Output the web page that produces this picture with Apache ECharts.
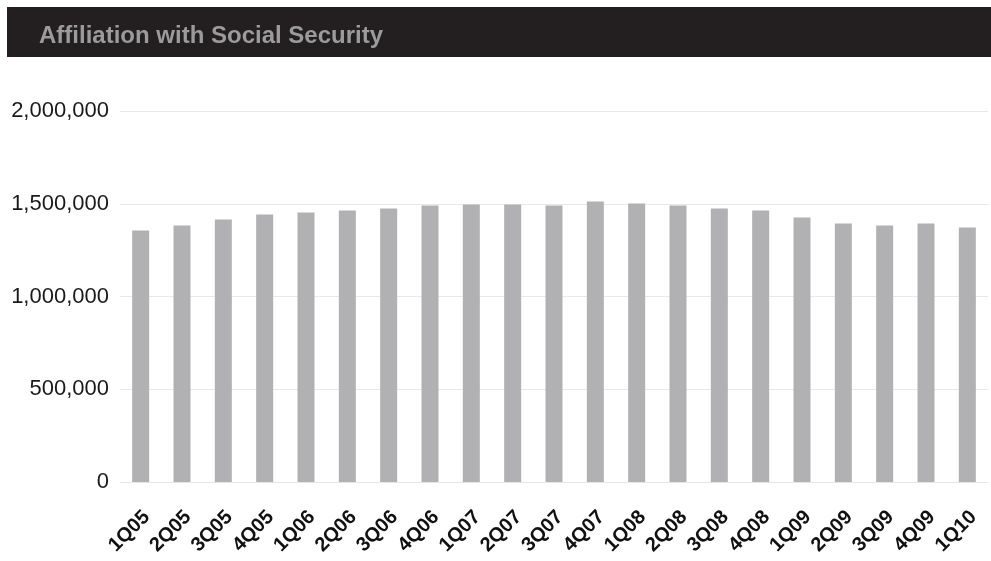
<!DOCTYPE html>
<html>
<head>
<meta charset="utf-8">
<script src="https://cdn.jsdelivr.net/npm/echarts@6/dist/echarts.min.js"></script>
<style>html,body{margin:0;padding:0;background:#fff}#c{width:991px;height:561px}</style>
</head>
<body>
<div id="c"></div>
<script>
var categories = ['1Q05','2Q05','3Q05','4Q05','1Q06','2Q06','3Q06','4Q06','1Q07','2Q07','3Q07','4Q07','1Q08','2Q08','3Q08','4Q08','1Q09','2Q09','3Q09','4Q09','1Q10'];
var affiliates = [1356000,1383000,1415000,1442000,1453000,1464000,1475000,1491000,1496000,1496000,1491000,1512000,1502000,1491000,1475000,1464000,1426000,1394000,1383000,1394000,1372000];
var titleText = 'Affiliation with Social Security';

var chart = echarts.init(document.getElementById('c'), null, {renderer:'canvas'});
chart.setOption({
  animation: false,
  backgroundColor: '#ffffff',
  graphic: [{
    type: 'rect', left: 7, top: 7, z: -1,
    shape: {width: 984, height: 50},
    style: {fill: '#231f20'}
  }],
  title: {
    text: titleText, left: 34, top: 19,
    textStyle: {color: '#9b9b9d', fontSize: 24, fontWeight: 'bold', fontFamily: 'Liberation Sans, Arial, sans-serif'}
  },
  grid: {left: 120, right: 3, top: 111, bottom: 79, containLabel: false},
  xAxis: {
    type: 'category', data: categories,
    axisLine: {show: true, lineStyle: {color: '#e6e6e6', width: 1}},
    axisTick: {show: false},
    axisLabel: {
      rotate: 45, margin: 26, lineHeight: 17, color: '#111', fontSize: 20, fontWeight: 'bold',
      fontFamily: 'Liberation Sans, Arial, sans-serif', interval: 0,
      formatter: function (v) { return '\n' + v; }
    }
  },
  yAxis: {
    type: 'value', min: 0, max: 2000000, interval: 500000,
    axisLine: {show: false}, axisTick: {show: false},
    splitLine: {lineStyle: {color: '#e8e8e8', width: 1}},
    axisLabel: {
      color: '#1a1a1a', fontSize: 22, margin: 11, fontFamily: 'Liberation Sans, Arial, sans-serif',
      formatter: function (v) { return v.toLocaleString('en-US'); }
    }
  },
  series: [{
    type: 'bar', data: affiliates, barWidth: 17,
    itemStyle: {color: '#b1b1b4'}
  }]
});
</script>
</body>
</html>
